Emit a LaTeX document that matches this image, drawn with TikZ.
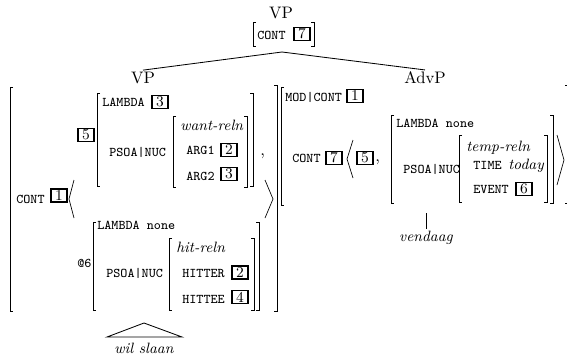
\documentclass[tikz,border=0pt]{standalone}
\usepackage{tikz}

\begin{document}
\begin{tikzpicture}[x=0.6pt,y=-0.6pt,
  ft/.style={font=\fontsize{8}{9}\selectfont\ttfamily, inner sep=0pt, anchor=base west},
  fi/.style={font=\fontsize{9}{10}\selectfont\itshape, inner sep=0pt, anchor=base west},
  cat/.style={font=\fontsize{10}{12}\selectfont, inner sep=1pt},
  tag/.style={draw, line width=0.9pt, font=\fontsize{9}{9}\selectfont, inner sep=0pt, minimum width=9.6pt, minimum height=7.6pt},
  brk/.style={line width=0.4pt}]
\useasboundingbox (0,0) rectangle (567,358);
% Mother VP
\node[cat] (vptop) at (281,13) {VP};
\node[ft] (conttop) at (257,39) {CONT};
\node[tag] (tsevtop) at (302,34) {7};
\coordinate (apex) at (282,52);
% Daughters
\node[cat] (vpl) at (143,78) {VP};
\node[cat] (advp) at (425,78) {AdvP};
\draw[line width=0.5pt] (apex) -- (vpl.north);
\draw[line width=0.5pt] (apex) -- (advp.north);
% Left brackets
\foreach \x/\a/\b in {253/22/46, 10/87/311, 97/93/186, 173/116/187, 93/222/310, 169/238/310, 281/87/205, 391/115/203, 459/135/202}
  \draw[brk] (\x+3,\a) -- (\x,\a) -- (\x,\b) -- (\x+3,\b);
% Right brackets
\foreach \x/\a/\b in {314/22/46, 277/85/311, 253/93/186, 247/116/187, 259/222/310, 254/238/310, 568/85/203, 553/115/203, 547/135/202}
  \draw[brk] (\x-3,\a) -- (\x,\a) -- (\x,\b) -- (\x-3,\b);
% Angle brackets
\draw[brk] (74,180) -- (69,199) -- (74,218);
\draw[brk] (265,180) -- (273,199) -- (265,218);
\draw[brk] (353,140) -- (347,159) -- (353,178);
\draw[brk] (557,135) -- (564,160) -- (557,185);
% VP: CONT list
\node[ft] (contl) at (16,203) {CONT};
\node[tag] (tonel) at (59,195.5) {1};
\node[tag] (tfive) at (86,135) {5};
\node[ft] (lamthree) at (102,106) {LAMBDA};
\node[tag] (tthree) at (160,102) {3};
\node[ft] (psoaw) at (109,156) {PSOA|NUC};
\node[fi] (want) at (180,130) {want-reln};
\node[ft] (argone) at (186,154) {ARG1};
\node[tag] (ttwoa) at (229,150) {2};
\node[ft] (argtwo) at (186,180) {ARG2};
\node[tag] (tthreeb) at (229,174) {3};
\node[inner sep=0pt, anchor=base west] (comma) at (260,155) {,};
\node[ft] (lamnone) at (97,229) {LAMBDA none};
\node[ft] (atsix) at (77,267) {@6};
\node[ft] (psoah) at (106,277) {PSOA|NUC};
\node[fi] (hit) at (176,252) {hit-reln};
\node[ft] (hitter) at (182,277) {HITTER};
\node[tag] (ttwob) at (240,272.5) {2};
\node[ft] (hittee) at (182,303) {HITTEE};
\node[tag] (tfour) at (240,297) {4};
% wil slaan
\coordinate (tri) at (144,323);
\node[cat, font=\fontsize{9}{10}\selectfont\itshape] (wil) at (144,348) {wil slaan};
\draw[line width=0.5pt] (tri) -- (107,337) -- (182,337) -- cycle;
% AdvP
\node[ft] (modcont) at (285,101) {MOD|CONT};
\node[tag] (toner) at (355,96) {1};
\node[ft] (contr) at (292,162) {CONT};
\node[tag] (tsevr) at (334,158) {7};
\node[tag] (tfiver) at (365,158) {5};
\node[inner sep=0pt, anchor=base west] (commar) at (375,161) {,};
\node[ft] (lamnoner) at (396,127) {LAMBDA none};
\node[ft] (psoat) at (403,173) {PSOA|NUC};
\node[fi] (temp) at (466,151) {temp-reln};
\node[ft] (time) at (473,169) {TIME};
\node[fi] (today) at (508,169) {today};
\node[ft] (event) at (473,193) {EVENT};
\node[tag] (tsix) at (524,189) {6};
% vendaag
\coordinate (advbot) at (426,213);
\node[cat, font=\fontsize{9}{10}\selectfont\itshape] (ven) at (426,238) {vendaag};
\draw[line width=0.5pt] (advbot) -- (ven.north);
\end{tikzpicture}
\end{document}
